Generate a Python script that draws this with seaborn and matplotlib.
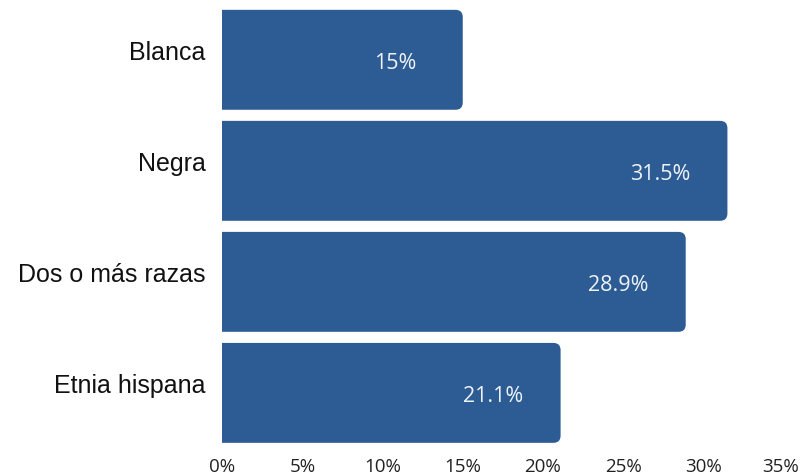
import matplotlib
matplotlib.use("Agg")
import matplotlib.pyplot as plt
import matplotlib.transforms as mtransforms
from matplotlib.patches import FancyBboxPatch
from matplotlib.ticker import FuncFormatter
import seaborn as sns
import pandas as pd

categories = ["Blanca", "Negra", "Dos o más razas", "Etnia hispana"]
values = [15, 31.5, 28.9, 21.1]
value_labels = ["15%", "31.5%", "28.9%", "21.1%"]
xticks = [0, 5, 10, 15, 20, 25, 30, 35]

bar_color = "#2d5b94"

df = pd.DataFrame({"grupo": categories, "pct": values})

sns.set_style("white")
plt.rcParams["font.family"] = ["Liberation Sans", "DejaVu Sans"]

fig = plt.figure(figsize=(8.02, 4.76), dpi=100)
ax = fig.add_axes([0.277, 0.058, 0.700, 0.933])

sns.barplot(data=df, x="pct", y="grupo", color=bar_color, saturation=1,
            width=0.9, orient="h", ax=ax)

# replace the plain bars with right-rounded ones (left edge clipped at 0)
for patch in list(ax.patches):
    x0, y0 = patch.get_x(), patch.get_y()
    w, h = patch.get_width(), patch.get_height()
    patch.remove()
    box = FancyBboxPatch((x0 - 1, y0), w + 1, h,
                         boxstyle="round,pad=0,rounding_size=0.45",
                         mutation_aspect=0.145,
                         facecolor=bar_color, edgecolor="none")
    ax.add_patch(box)

for i, (v, lab) in enumerate(zip(values, value_labels)):
    ax.text(v - 4.2, i + 0.03, lab, color="#eef3f8", ha="center", va="center",
            fontsize=15.5, family=["Open Sans", "DejaVu Sans"])

ax.set_xlim(0, 35)
ax.set_ylim(3.5, -0.5)
ax.set_xticks(xticks)
ax.xaxis.set_major_formatter(FuncFormatter(lambda v, p: f"{v:.0f}%"))
ax.set_xlabel("")
ax.set_ylabel("")
sns.despine(ax=ax, left=True, bottom=True)
ax.tick_params(axis="x", length=0, pad=7, labelsize=13.5, labelcolor="#222222")
ax.tick_params(axis="y", length=0, pad=12, labelsize=18, labelcolor="#111111")
for t in ax.get_xticklabels():
    t.set_family(["Open Sans", "DejaVu Sans"])
# keep the last tick label inside the figure
last = ax.get_xticklabels()[-1]
last.set_transform(last.get_transform() +
                   mtransforms.ScaledTranslation(-3 / 100, 0, fig.dpi_scale_trans))
offset = mtransforms.ScaledTranslation(0, 9 / 100, fig.dpi_scale_trans)
for t in ax.get_yticklabels():
    t.set_transform(t.get_transform() + offset)

fig.savefig("out.png", dpi=100)
